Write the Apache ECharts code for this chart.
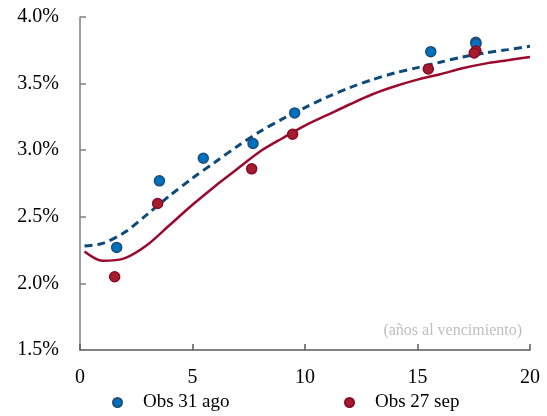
<!DOCTYPE html>
<html>
<head>
<meta charset="utf-8">
<script src="https://cdn.jsdelivr.net/npm/echarts@6/dist/echarts.min.js"></script>
<style>
html, body { margin: 0; padding: 0; background: #fff; }
#main { width: 547px; height: 416px; }
</style>
</head>
<body>
<div id="main"></div>
<script>
// observaciones (años, tasa %)
var obsAgoX = [1.63, 3.53, 5.48, 7.69, 9.54, 15.59, 17.59, 17.6];
var obsAgoY = [2.27, 2.77, 2.94, 3.05, 3.28, 3.74, 3.81, 3.80];
var obsSepX = [1.54, 3.45, 7.63, 9.45, 15.48, 17.6, 17.52];
var obsSepY = [2.05, 2.60, 2.86, 3.12, 3.61, 3.745, 3.73];

// curvas ajustadas
var curveX = [0.2, 1, 2, 3, 4, 5, 6, 7, 8, 9, 10, 11, 12, 13, 14, 15, 16, 17, 18, 19, 20];
var curveAgo = [2.28, 2.30, 2.385, 2.52, 2.66, 2.79, 2.91, 3.03, 3.14, 3.235, 3.32, 3.40, 3.47, 3.53, 3.58, 3.62, 3.66, 3.70, 3.73, 3.755, 3.78];
var curveSep = [2.24, 2.17, 2.19, 2.29, 2.44, 2.59, 2.73, 2.86, 2.99, 3.09, 3.185, 3.265, 3.345, 3.42, 3.48, 3.53, 3.57, 3.615, 3.65, 3.675, 3.70];

var xTicks = [0, 5, 10, 15, 20];
var yTicks = [1.5, 2.0, 2.5, 3.0, 3.5, 4.0];

function pairs(xs, ys) {
	var out = [];
	for (var i = 0; i < xs.length; i++) out.push([xs[i], ys[i]]);
	return out;
}

var font = "'Liberation Serif', 'Times New Roman', serif";
var blue = '#0070c0', red = '#a51d2d';

var myChart = echarts.init(document.getElementById('main'));
var option = {
	animation: false,
	textStyle: { fontFamily: font },
	title: {
		text: '(años al vencimiento)',
		right: 20,
		top: 318,
		textStyle: { color: '#bfbfbf', fontSize: 16, fontWeight: 'normal', fontFamily: font }
	},
	grid: { left: 80, right: 17, top: 17, bottom: 66 },
	legend: [{
		left: 112,
		top: 393,
		padding: 0,
		itemWidth: 9,
		itemHeight: 9,
		textStyle: { fontSize: 19, color: '#000', fontFamily: font, padding: [0, 0, 0, 16] },
		data: [{ name: 'Obs 31 ago', icon: 'circle' }]
	}, {
		left: 344,
		top: 393,
		padding: 0,
		itemWidth: 9,
		itemHeight: 9,
		textStyle: { fontSize: 19, color: '#000', fontFamily: font, padding: [0, 0, 0, 16] },
		data: [{ name: 'Obs 27 sep', icon: 'circle' }]
	}],
	xAxis: {
		type: 'value',
		min: xTicks[0],
		max: xTicks[xTicks.length - 1],
		interval: 5,
		splitLine: { show: false },
		axisLine: { lineStyle: { color: '#595959', width: 1.5 } },
		axisTick: { inside: true, length: 6, lineStyle: { color: '#595959', width: 1.5 } },
		axisLabel: { fontSize: 20, color: '#000', margin: 18, fontFamily: font }
	},
	yAxis: {
		type: 'value',
		min: yTicks[0],
		max: yTicks[yTicks.length - 1],
		interval: 0.5,
		splitLine: { show: false },
		axisLine: { show: true, lineStyle: { color: '#7f7f7f', width: 1.5 } },
		axisTick: { show: true, inside: true, length: 6, lineStyle: { color: '#7f7f7f', width: 1.5 } },
		axisLabel: {
			fontSize: 20, color: '#000', margin: 21, fontFamily: font,
			formatter: function (v) { return v.toFixed(1) + '%'; }
		}
	},
	series: [{
		name: 'Curva 31 ago',
		type: 'line',
		data: pairs(curveX, curveAgo),
		smooth: 0.3,
		showSymbol: false,
		lineStyle: { color: '#0b4a7a', width: 3, type: [8, 5] },
		z: 2
	}, {
		name: 'Curva 27 sep',
		type: 'line',
		data: pairs(curveX, curveSep),
		smooth: 0.3,
		showSymbol: false,
		lineStyle: { color: '#9b0a2e', width: 2.5 },
		z: 2
	}, {
		name: 'Obs 31 ago',
		type: 'scatter',
		data: pairs(obsAgoX, obsAgoY),
		symbolSize: 10,
		itemStyle: { color: blue, borderColor: '#1f4e79', borderWidth: 1.5, opacity: 1 },
		z: 3
	}, {
		name: 'Obs 27 sep',
		type: 'scatter',
		data: pairs(obsSepX, obsSepY),
		symbolSize: 10,
		itemStyle: { color: red, borderColor: '#8b0a28', borderWidth: 1.5, opacity: 1 },
		z: 4
	}]
};
myChart.setOption(option);
</script>
</body>
</html>
